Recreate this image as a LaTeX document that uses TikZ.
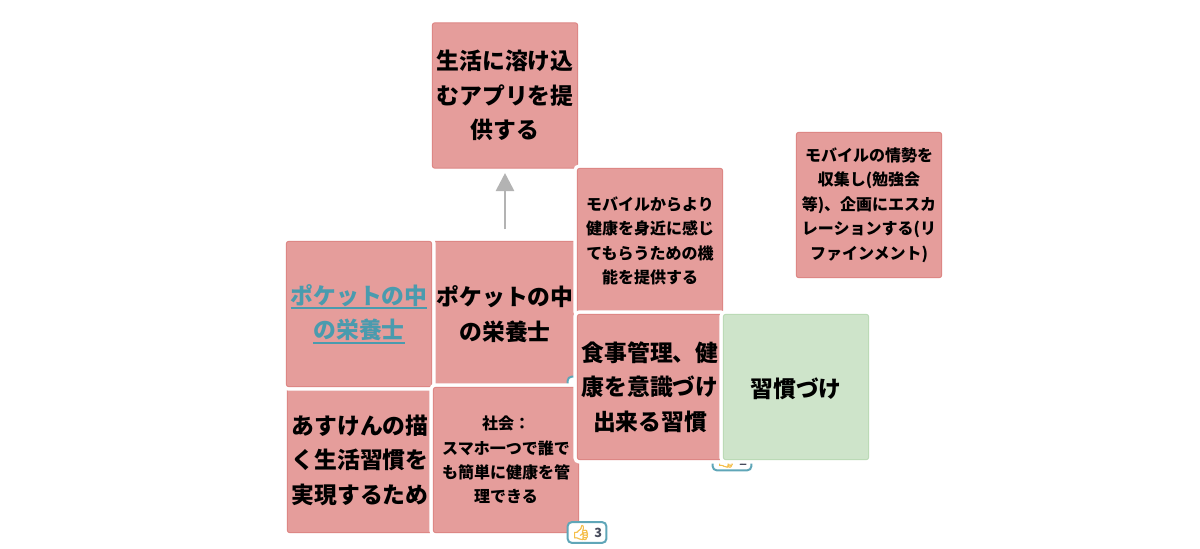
\documentclass[tikz,border=0pt]{standalone}
\usepackage{fontspec}
\setmainfont{Noto Sans CJK JP}
\newfontfamily\emojifont[FakeBold=3]{Noto Emoji}
\usetikzlibrary{arrows.meta}
\definecolor{redfill}{HTML}{E59D9B}
\definecolor{redline}{HTML}{DD8785}
\definecolor{greenfill}{HTML}{CEE4CA}
\definecolor{greenline}{HTML}{BBDAB6}
\definecolor{linkblue}{HTML}{4A9BAE}
\definecolor{thumbline}{HTML}{5FA6B8}
\definecolor{thumbtext}{HTML}{474B5C}
\newcommand{\linkline}[1]{\setbox0=\hbox{#1}\rlap{\rule[-3.6pt]{\wd0}{1.5pt}}\box0}
\tikzstyle{card} = [rectangle, rounded corners=1.5pt, minimum size=108.8pt, inner sep=0pt, outer sep=0pt, align=center, text=black, preaction={draw=white, line width=6pt}]
\tikzstyle{redcard} = [card, fill=redfill, draw=redline, line width=.75pt]
\tikzstyle{greencard} = [card, fill=greenfill, draw=greenline, line width=.75pt]
\tikzstyle{bigtext} = [font=\fontsize{17.1}{25.9}\selectfont\bfseries, execute at begin node={\rule{0pt}{17.5pt}}]
\tikzstyle{smalltext} = [font=\fontsize{12}{18.3}\selectfont\bfseries, execute at begin node={\rule{0pt}{12.2pt}}]
\tikzstyle{thumb} = [rectangle, rounded corners=3pt, fill=white, draw=thumbline, line width=1.5pt, minimum width=29pt, minimum height=15.5pt, inner sep=0pt, font=\fontsize{9.5}{10}\selectfont\bfseries, text=thumbtext]
\tikzstyle{arrow} = [draw={rgb,255:red,179;green,179;blue,179}, line width=2.1pt, -{Triangle[width=13.5pt,length=13.5pt]}, shorten >=3.75pt, shorten <=9pt]
\newcommand{\thumbsup}{\textcolor[HTML]{F5BF4B}{\emojifont\fontsize{11}{11}\selectfont 👍}}

\begin{document}
\begin{tikzpicture}[x=.75pt, y=-.75pt, node distance=109.5pt]
                \useasboundingbox (0,0) rectangle (1200,549);

                \node (life) [redcard, bigtext] at (505,95.5) {生活に溶け込\\むアプリを提\\供する};
                \node (pocket) [redcard, bigtext] at (505,314) {ポケットの中\\の栄養士};
                \node (asken) [redcard, bigtext] at (360,460) {あすけんの描\\く生活習慣を\\実現するため};
                \node (link) [redcard, bigtext, text=linkblue, left of=pocket] {\linkline{ポケットの中}\\\linkline{の栄養士}};
                \node (thumbc) [thumb] at (587,387) {};
                \node (society) [redcard, smalltext, right of=asken] {社会：\\スマホ一つで誰で\\も簡単に健康を管\\理できる};
                \node (mobile) [redcard, smalltext] at (650,241) {モバイルからより\\健康を身近に感じ\\てもらうための機\\能を提供する};
                \node (trend) [redcard, smalltext] at (869,205) {モバイルの情勢を\\収集し(勉強会\\等)、企画にエスカ\\レーションする(リ\\ファインメント)};
                \node (thumba) [thumb] at (587,532.5) {\thumbsup\hspace{3pt}3};
                \node (thumbb) [thumb] at (732,460) {\thumbsup\hspace{3pt}2};
                \node (meal) [redcard, bigtext, below of=mobile] {食事管理、健\\康を意識づけ\\出来る習慣};
                \node (habit) [greencard, bigtext, right of=meal] {習慣づけ};

                \draw [arrow] (pocket) -- (life);
            \end{tikzpicture}
\end{document}
